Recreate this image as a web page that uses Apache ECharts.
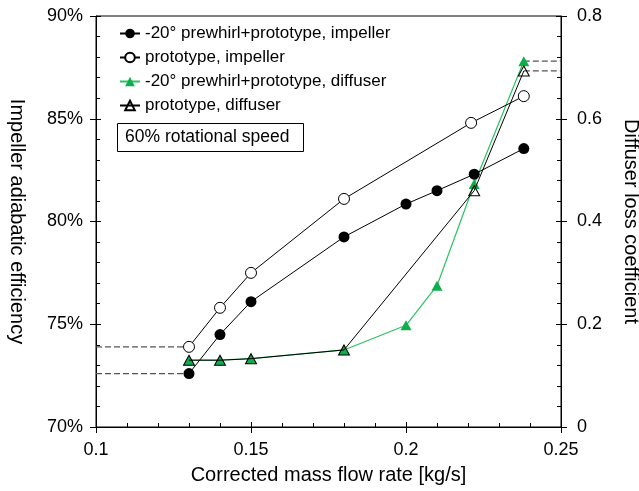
<!DOCTYPE html>
<html>
<head>
<meta charset="utf-8">
<script src="https://cdn.jsdelivr.net/npm/echarts@6/dist/echarts.min.js"></script>
<style>
  html, body { margin: 0; padding: 0; background: #fff; }
  #chart { width: 639px; height: 491px; }
</style>
</head>
<body>
<div id="chart"></div>
<script>
// Corrected mass flow rate [kg/s] for each measured operating point
var flowPrewhirl = [0.13, 0.14, 0.15, 0.18, 0.20, 0.21, 0.222, 0.238];
var flowPrototypeImp = [0.13, 0.14, 0.15, 0.18, 0.221, 0.238];
var flowPrototypeDiff = [0.13, 0.14, 0.15, 0.18, 0.222, 0.238];

// Impeller adiabatic efficiency [%]
var effPrewhirl = [72.6, 74.5, 76.1, 79.25, 80.85, 81.5, 82.3, 83.55];
var effPrototype = [73.9, 75.8, 77.5, 81.1, 84.8, 86.1];

// Diffuser loss coefficient [-]
var lossPrewhirl = [0.130, 0.130, 0.133, 0.150, 0.198, 0.275, 0.473, 0.712];
var lossPrototype = [0.130, 0.130, 0.133, 0.150, 0.460, 0.693];

// Axis ranges and ticks
var flowRange = [0.1, 0.25], flowStep = 0.05;
var effRange = [70, 90], effStep = 5;
var lossRange = [0, 0.8], lossStep = 0.2;

var names = [
  '-20° prewhirl+prototype, impeller',
  'prototype, impeller',
  '-20° prewhirl+prototype, diffuser',
  'prototype, diffuser'
];

function pairs(xs, ys) { return xs.map(function (x, i) { return [x, ys[i]]; }); }

var FONT = 'Liberation Sans';
var GREEN = '#0fae4c';
var GREEN_LINE = '#2cc262';

// Dashed leaders from the lowest-flow efficiency points to the left axis
// and from the highest-flow loss points to the right axis
var lastP = flowPrewhirl.length - 1, lastD = flowPrototypeDiff.length - 1;
var leaders = [
  { y: 0, data: [[flowRange[0], effPrototype[0]], [flowPrototypeImp[0], effPrototype[0]]] },
  { y: 0, data: [[flowRange[0], effPrewhirl[0]], [flowPrewhirl[0], effPrewhirl[0]]] },
  { y: 1, data: [[flowPrewhirl[lastP], lossPrewhirl[lastP]], [flowRange[1], lossPrewhirl[lastP]]] },
  { y: 1, data: [[flowPrototypeDiff[lastD], lossPrototype[lastD]], [flowRange[1], lossPrototype[lastD]]] }
].map(function (l) {
  return {
    type: 'line', xAxisIndex: 0, yAxisIndex: l.y, data: l.data,
    symbol: 'none', silent: true, z: 1,
    lineStyle: { color: '#555', width: 1.3, type: [6, 3] }
  };
});

var labelStyle = { color: '#000', fontFamily: FONT, fontSize: 18 };
var titleStyle = { color: '#000', fontFamily: FONT, fontSize: 20 };

var chart = echarts.init(document.getElementById('chart'), null, { renderer: 'canvas' });
chart.setOption({
  animation: false,
  backgroundColor: '#fff',
  grid: {
    left: 96, right: 78, top: 16, bottom: 64, outerBoundsMode: 'none', containLabel: false,
    show: true, borderColor: '#000', borderWidth: 1, backgroundColor: 'transparent'
  },
  legend: {
    data: names, orient: 'vertical', left: 119, top: 25, padding: 0,
    itemWidth: 20, itemHeight: 12, itemGap: 7,
    textStyle: { color: '#000', fontFamily: FONT, fontSize: 17 },
    selectedMode: false
  },
  graphic: [
    { type: 'rect', left: 117, top: 123, shape: { width: 186, height: 28 }, style: { fill: '#fff', stroke: '#000', lineWidth: 1 } },
    { type: 'text', left: 125, top: 128, style: { text: '60% rotational speed', fill: '#000', font: '17.5px "' + FONT + '"' } }
  ],
  xAxis: [
    {
      type: 'value', min: flowRange[0], max: flowRange[1], interval: flowStep,
      name: 'Corrected mass flow rate [kg/s]', nameLocation: 'middle', nameGap: 38, nameTextStyle: titleStyle,
      axisLine: { show: true, lineStyle: { color: '#000', width: 1 } },
      axisTick: { show: true, inside: true, length: 5, lineStyle: { color: '#000' } },
      minorTick: { show: true, splitNumber: 5, length: 4, lineStyle: { color: '#000' } },
      axisLabel: { margin: 14, color: '#000', fontFamily: FONT, fontSize: 18, formatter: function (v) { return String(+v.toFixed(2)); } },
      splitLine: { show: false }
    },
    {
      type: 'value', position: 'bottom', min: flowRange[0], max: flowRange[1], interval: flowStep,
      axisLine: { show: false }, axisLabel: { show: false }, splitLine: { show: false },
      axisTick: { show: true, inside: false, length: 6, lineStyle: { color: '#000' } }
    }
  ],
  yAxis: [
    {
      type: 'value', position: 'left', min: effRange[0], max: effRange[1], interval: effStep,
      name: 'Impeller adiabatic efficiency', nameLocation: 'middle', nameGap: 69, nameRotate: -90, nameTextStyle: titleStyle,
      axisLine: { show: true, lineStyle: { color: '#000', width: 1 } },
      axisTick: { show: true, inside: true, length: 5, lineStyle: { color: '#000' } },
      minorTick: { show: true, splitNumber: 5, length: 4, lineStyle: { color: '#000' } },
      axisLabel: Object.assign({ margin: 13, formatter: '{value}%' }, labelStyle),
      splitLine: { show: false }
    },
    {
      type: 'value', position: 'right', min: lossRange[0], max: lossRange[1], interval: lossStep,
      name: 'Diffuser loss coefficient', nameLocation: 'middle', nameGap: 60, nameRotate: -90, nameTextStyle: titleStyle,
      axisLine: { show: true, lineStyle: { color: '#000', width: 1 } },
      axisTick: { show: true, inside: true, length: 5, lineStyle: { color: '#000' } },
      minorTick: { show: true, splitNumber: 5, length: 4, lineStyle: { color: '#000' } },
      axisLabel: Object.assign({ margin: 16, formatter: function (v) { return String(+v.toFixed(1)); } }, labelStyle),
      splitLine: { show: false }
    },
    {
      type: 'value', position: 'left', offset: 0, min: effRange[0], max: effRange[1], interval: effStep,
      axisLine: { show: false }, axisLabel: { show: false }, splitLine: { show: false },
      axisTick: { show: true, inside: false, length: 6, lineStyle: { color: '#000' } }
    },
    {
      type: 'value', position: 'right', offset: 0, min: lossRange[0], max: lossRange[1], interval: lossStep,
      axisLine: { show: false }, axisLabel: { show: false }, splitLine: { show: false },
      axisTick: { show: true, inside: false, length: 6, lineStyle: { color: '#000' } }
    }
  ],
  series: leaders.concat([
    {
      name: names[2], type: 'line', xAxisIndex: 0, yAxisIndex: 1,
      data: pairs(flowPrewhirl, lossPrewhirl),
      symbol: 'triangle', symbolSize: [11, 10], z: 2,
      itemStyle: { color: GREEN, borderWidth: 0 },
      lineStyle: { color: GREEN_LINE, width: 1.2 }
    },
    {
      name: names[3], type: 'line', xAxisIndex: 0, yAxisIndex: 1,
      data: pairs(flowPrototypeDiff, lossPrototype),
      symbol: 'triangle', symbolSize: [11, 10], z: 3,
      itemStyle: { color: 'rgba(255,255,255,0)', borderColor: '#000', borderWidth: 1 },
      lineStyle: { color: '#000', width: 1 }
    },
    {
      name: names[0], type: 'line', xAxisIndex: 0, yAxisIndex: 0,
      data: pairs(flowPrewhirl, effPrewhirl),
      symbol: 'circle', symbolSize: 11, z: 4,
      itemStyle: { color: '#000', borderWidth: 0 },
      lineStyle: { color: '#000', width: 1 }
    },
    {
      name: names[1], type: 'line', xAxisIndex: 0, yAxisIndex: 0,
      data: pairs(flowPrototypeImp, effPrototype),
      symbol: 'circle', symbolSize: 11, z: 4,
      itemStyle: { color: '#fff', borderColor: '#000', borderWidth: 1 },
      lineStyle: { color: '#000', width: 1 }
    }
  ])
});
</script>
</body>
</html>
